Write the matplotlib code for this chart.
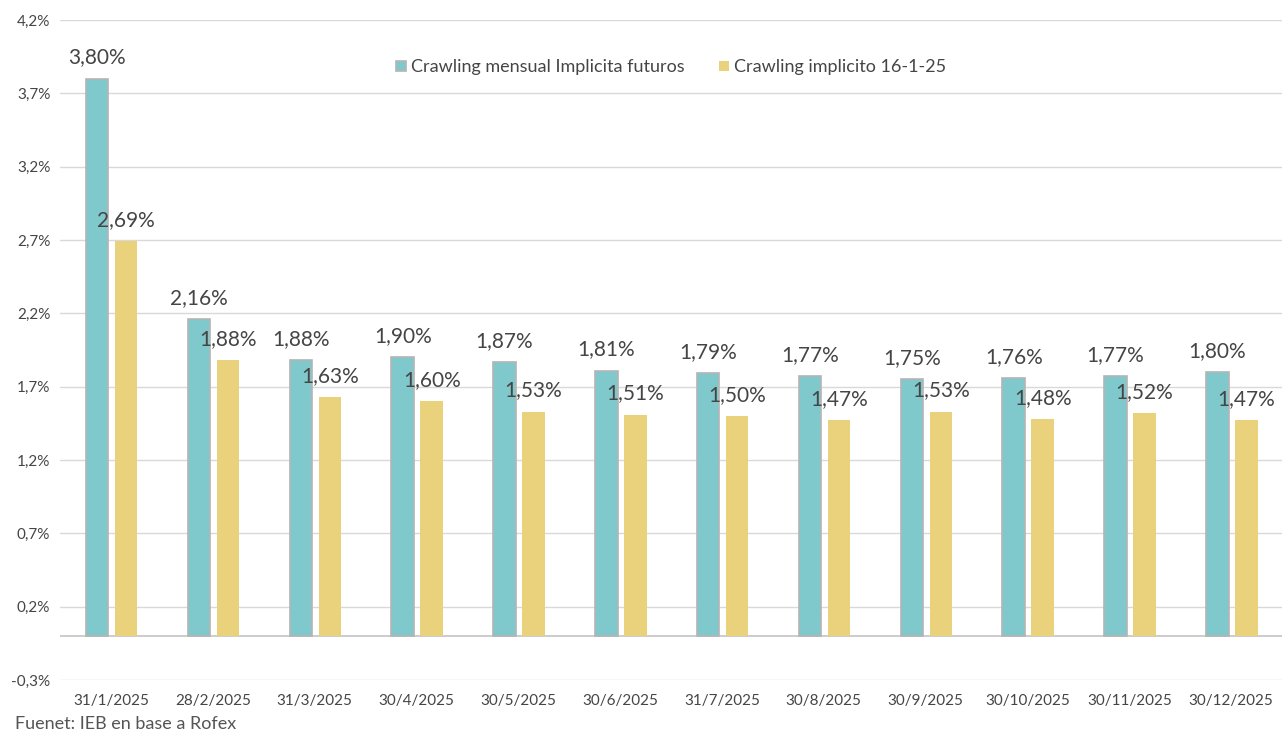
import numpy as np
import matplotlib.pyplot as plt
from matplotlib.ticker import FuncFormatter

fechas = ["31/1/2025", "28/2/2025", "31/3/2025", "30/4/2025", "30/5/2025", "30/6/2025",
          "31/7/2025", "30/8/2025", "30/9/2025", "30/10/2025", "30/11/2025", "30/12/2025"]
futuros = [3.80, 2.16, 1.88, 1.90, 1.87, 1.81, 1.79, 1.77, 1.75, 1.76, 1.77, 1.80]
implicito = [2.69, 1.88, 1.63, 1.60, 1.53, 1.51, 1.50, 1.47, 1.53, 1.48, 1.52, 1.47]

TEAL = "#7FC8CC"
GOLD = "#EAD27D"
TXT = "#454545"

plt.rcParams['font.family'] = ['Lato', 'DejaVu Sans']

fig = plt.figure(figsize=(12.82, 7.33), dpi=100)
ax = fig.add_axes([60 / 1282, 1 - 680 / 733, 1 - 60 / 1282, 660 / 733])

x = np.arange(len(fechas))
w = 0.22
b1 = ax.bar(x - 0.135, futuros, w, color=TEAL, edgecolor="#B4B4B4", linewidth=1.2,
            label="Crawling mensual Implicita futuros", zorder=3)
b2 = ax.bar(x + 0.15, implicito, w, color=GOLD, edgecolor="none",
            label="Crawling implicito 16-1-25", zorder=3)

def pct(v):
    return f"{v:.2f}%".replace(".", ",")

# etiquetas de valor sobre cada barra
for rects, vals in ((b1, futuros), (b2, implicito)):
    for r, v in zip(rects, vals):
        ax.annotate(pct(v), (r.get_x() + r.get_width() / 2, v), xytext=(0, 8),
                    textcoords="offset points", ha="center", va="bottom",
                    fontsize=15, color=TXT, zorder=4)

ax.set_xlim(-0.5, len(fechas) - 0.5)
ax.set_ylim(-0.3, 4.2)
ax.set_yticks(np.arange(-0.3, 4.21, 0.5))
ax.yaxis.set_major_formatter(FuncFormatter(lambda v, p: f"{v:.1f}%".replace(".", ",")))
ax.set_xticks(x)
ax.set_xticklabels(fechas)
ax.tick_params(axis="both", length=0, labelsize=11, colors=TXT)
ax.tick_params(axis="x", pad=10)
ax.tick_params(axis="y", pad=7)

ax.grid(axis="y", color="#D9D9D9", linewidth=1, zorder=0)
ax.axhline(0, color="#C4C4C4", linewidth=1.2, zorder=2)
for s in ax.spines.values():
    s.set_visible(False)

ax.legend(loc="upper center", bbox_to_anchor=(0.5, 0.965), ncol=2, frameon=False,
          fontsize=13, handlelength=0.55, handleheight=0.55, handletextpad=0.3,
          columnspacing=1.9, labelcolor=TXT)

fig.text(15 / 1282, 1 - 724 / 733, "Fuenet: IEB en base a Rofex", fontsize=13,
         color="#555555", va="center")

fig.savefig("out.png", dpi=100)
